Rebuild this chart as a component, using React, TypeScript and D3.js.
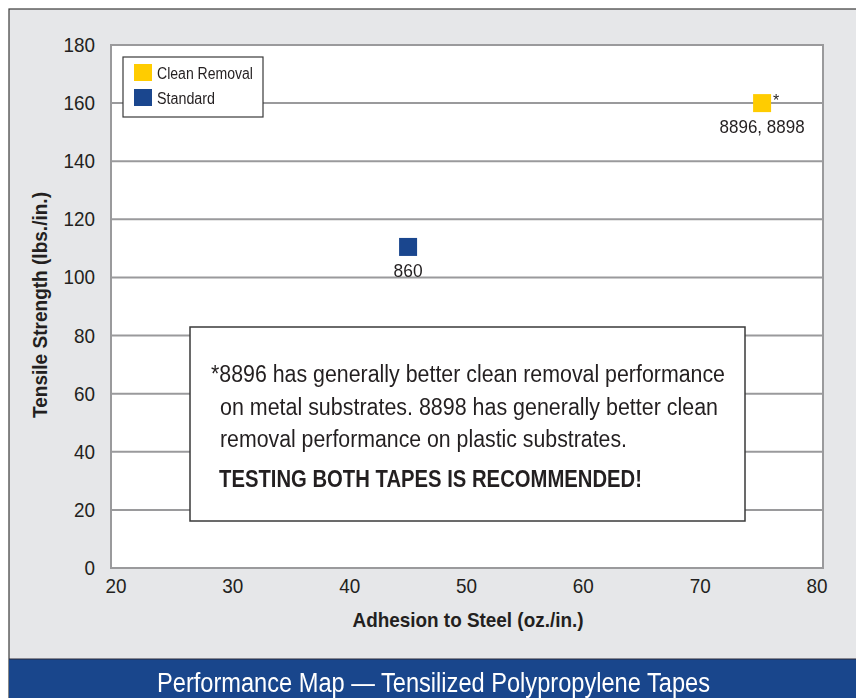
import React from "react";
import * as d3 from "d3";

const W = 856;
const H = 698;

const seriesNames = ["Clean Removal", "Standard"];
const seriesColors = ["#ffcc00", "#1a468e"];
const pointsX = [75.3, 45];
const pointsY = [160, 110.5];
const pointLabels = ["8896, 8898", "860"];
const pointSeries = [0, 1];
const xTicks = [20, 30, 40, 50, 60, 70, 80];
const yTicks = [0, 20, 40, 60, 80, 100, 120, 140, 160, 180];
const noteLines = [
  "*8896 has generally better clean removal performance",
  "on metal substrates. 8898 has generally better clean",
  "removal performance on plastic substrates.",
];
const noteBold = "TESTING BOTH TAPES IS RECOMMENDED!";
const title = "Performance Map \u2014 Tensilized Polypropylene Tapes";

const FONT = "'Liberation Sans', Arial, Helvetica, sans-serif";

// condensed text helper: fixed width via textLength
function CText(props: any) {
  const { len, children, ...rest } = props;
  return (
    <text {...rest} textLength={len} lengthAdjust="spacingAndGlyphs">
      {children}
    </text>
  );
}

export default function App() {
  const x = d3.scaleLinear().domain([20, 80]).range([116, 817]);
  const y = d3.scaleLinear().domain([0, 180]).range([568, 45]);
  const frameL = 111, frameR = 823, frameT = y(180), frameB = y(0);
  const grid = "#9a9a9c";
  const txt = "#231f20";
  const digitW = 10.5;
  const noteX = [211, 220, 220];
  const noteLen = [514, 498, 407];
  const noteY = [382, 415, 447];
  const legendLen = [96, 58];
  const labelLen = [85, 29];
  return (
    <svg width={W} height={H} style={{ position: "fixed", left: 0, top: 0 }} fontFamily={FONT}>
      <rect x={0} y={0} width={W} height={H} fill="#ffffff" />
      <rect x={9} y={9} width={W} height={H} fill="#e6e7e9" stroke="#3a3a3a" strokeWidth={1.2} />
      <rect x={frameL} y={frameT} width={frameR - frameL} height={frameB - frameT} fill="#ffffff" />
      {yTicks.filter((t) => t > 0 && t < 180).map((t) => (
        <line key={t} x1={frameL} x2={frameR} y1={y(t)} y2={y(t)} stroke={grid} strokeWidth={2} />
      ))}
      <rect x={frameL} y={frameT} width={frameR - frameL} height={frameB - frameT} fill="none" stroke={grid} strokeWidth={2} />
      {yTicks.map((t) => (
        <CText key={t} x={95} y={y(t) + 7} textAnchor="end" fontSize={21} fill={txt} len={String(t).length * digitW}>{t}</CText>
      ))}
      {xTicks.map((t) => (
        <CText key={t} x={x(t)} y={593} textAnchor="middle" fontSize={21} fill={txt} len={String(t).length * digitW}>{t}</CText>
      ))}
      <CText x={468} y={627} textAnchor="middle" fontSize={21} fontWeight="bold" fill={txt} len={231}>Adhesion to Steel (oz./in.)</CText>
      <CText transform="translate(47,305) rotate(-90)" x={0} y={0} textAnchor="middle" fontSize={21} fontWeight="bold" fill={txt} len={226}>Tensile Strength (lbs./in.)</CText>

      {/* legend */}
      <rect x={123} y={57} width={140} height={60} fill="#ffffff" stroke="#3a3a3a" strokeWidth={1.2} />
      {seriesNames.map((n, i) => (
        <g key={n}>
          <rect x={134} y={64 + i * 25} width={18} height={17} fill={seriesColors[i]} />
          <CText x={157} y={79 + i * 25} fontSize={16} fill={txt} len={legendLen[i]}>{n}</CText>
        </g>
      ))}

      {/* points */}
      {pointsX.map((px, i) => (
        <g key={i}>
          <rect x={x(px) - 9} y={y(pointsY[i]) - 9} width={18} height={18} fill={seriesColors[pointSeries[i]]} />
          <CText x={x(px)} y={y(pointsY[i]) + 30} textAnchor="middle" fontSize={19} fill={txt} len={labelLen[i]}>{pointLabels[i]}</CText>
        </g>
      ))}
      <text x={x(pointsX[0]) + 11} y={y(pointsY[0]) + 3} fontSize={16} fill={txt}>*</text>

      {/* note box */}
      <rect x={190} y={327} width={555} height={194} fill="#ffffff" stroke="#3a3a3a" strokeWidth={1.5} />
      {noteLines.map((l, i) => (
        <CText key={i} x={noteX[i]} y={noteY[i]} fontSize={23} fill={txt} len={noteLen[i]}>{l}</CText>
      ))}
      <CText x={219} y={487} fontSize={23} fontWeight="bold" fill={txt} len={423}>{noteBold}</CText>

      {/* title band */}
      <rect x={9} y={659} width={W} height={H - 659} fill="#19468c" />
      <line x1={9} x2={W} y1={659} y2={659} stroke="#2a2a3a" strokeWidth={1.2} />
      <CText x={157} y={692} fontSize={27} fill="#ffffff" len={553}>{title}</CText>
    </svg>
  );
}
